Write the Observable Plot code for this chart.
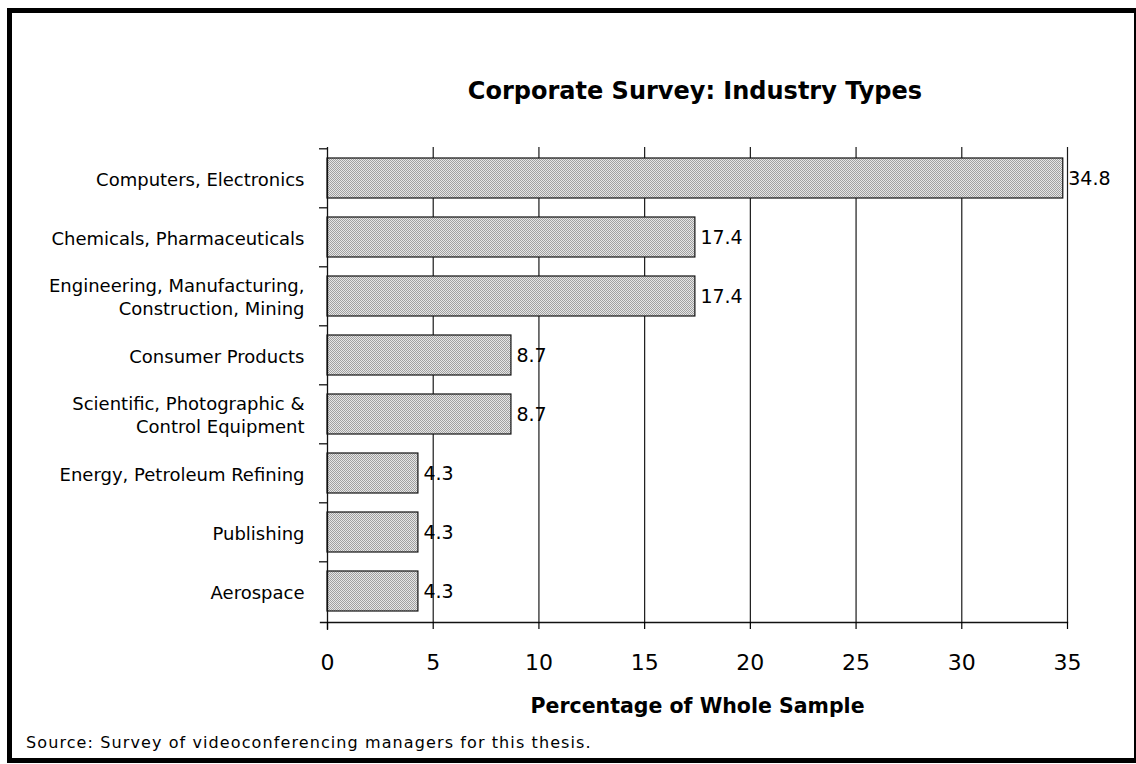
<!DOCTYPE html>
<html>
<head>
<meta charset="utf-8">
<script src="https://cdn.jsdelivr.net/npm/d3@7"></script>
<script src="https://cdn.jsdelivr.net/npm/@observablehq/plot@0.6"></script>
<style>
  html, body { margin: 0; padding: 0; background: #fff; }
  #page { position: relative; width: 1136px; height: 764px; overflow: hidden; font-family: "DejaVu Sans", sans-serif; color: #000; }
  #frame { position: absolute; left: 7px; top: 8px; width: 1129px; height: 755px; box-sizing: border-box;
           border-left: 5px solid #000; border-top: 5px solid #000; border-bottom: 5px solid #000; border-right: 2px solid #000; }
  #title { position: absolute; left: 0; width: 1390px; top: 77px; text-align: center; font-weight: bold; font-size: 24px; line-height: 28px; }
  #chart { position: absolute; left: 0; top: 0; }
  #source { position: absolute; left: 26px; top: 733px; font-size: 16px; letter-spacing: 1.1px; line-height: 19px; }
</style>
</head>
<body>
<div id="page">
  <div id="frame"></div>
  <div id="title">Corporate Survey: Industry Types</div>
  <div id="chart"></div>
  <div id="source">Source: Survey of videoconferencing managers for this thesis.</div>
</div>
<script>
// Industry categories, top to bottom, and their share of the sample (%)
const industries = [
  "Computers, Electronics",
  "Chemicals, Pharmaceuticals",
  "Engineering, Manufacturing,\nConstruction, Mining",
  "Consumer Products",
  "Scientific, Photographic &\nControl Equipment",
  "Energy, Petroleum Refining",
  "Publishing",
  "Aerospace"
];
const percentages = [34.8, 17.4, 17.4, 8.7, 8.7, 4.3, 4.3, 4.3];
const xTicks = [0, 5, 10, 15, 20, 25, 30, 35];
const xTitle = "Percentage of Whole Sample";

const data = industries.map((industry, i) => ({industry, pct: percentages[i]}));

const W = 1136, H = 700;
const mTop = 147, mBottom = 78, mLeft = 327, mRight = 69;
const bandStep = (H - mTop - mBottom) / industries.length;

const chart = Plot.plot({
  width: W,
  height: H,
  marginTop: mTop,
  marginBottom: mBottom,
  marginLeft: mLeft,
  marginRight: mRight,
  style: {fontFamily: "DejaVu Sans, sans-serif", color: "#000", background: "transparent", overflow: "visible"},
  x: {domain: [0, 35]},
  y: {domain: industries, paddingInner: 0.33, paddingOuter: 0.165},
  marks: [
    // vertical gridlines at each major tick
    Plot.gridX(xTicks.slice(1), {stroke: "#1a1a1a", strokeOpacity: 1, strokeWidth: 1.2}),
    // bars with a fine halftone fill
    Plot.barX(data, {x: "pct", y: "industry", fill: "url(#halftone)", stroke: "#111", strokeWidth: 1.2}),
    // value labels at the bar ends
    Plot.text(data, {x: "pct", y: "industry", text: d => d.pct.toFixed(1), textAnchor: "start", dx: 5, fontSize: 19}),
    // category labels
    Plot.axisY({tickSize: 0, tickPadding: 23, fontSize: 18, lineHeight: 1.28, label: null}),
    // boundary ticks between categories
    Plot.axisY({tickSize: 8, tickFormat: () => "", dy: -bandStep / 2, strokeWidth: 1.2, label: null}),
    // vertical axis line, running slightly past the baseline
    Plot.ruleX([0], {stroke: "#111", strokeWidth: 1.3, insetBottom: -8}),
    // horizontal axis line, running slightly left of the vertical axis
    Plot.frame({anchor: "bottom", stroke: "#111", strokeWidth: 1.3, insetLeft: -7}),
    Plot.axisX({ticks: xTicks, tickSize: 7, tickPadding: 25, fontSize: 22, strokeWidth: 1.2, label: null}),
    Plot.text([xTitle], {frameAnchor: "bottom", dy: 90, fontWeight: "bold", fontSize: 20.5})
  ]
});

// halftone pattern used for the bar fill
const ns = "http://www.w3.org/2000/svg";
const defs = document.createElementNS(ns, "defs");
const pat = document.createElementNS(ns, "pattern");
pat.setAttribute("id", "halftone");
pat.setAttribute("width", "2");
pat.setAttribute("height", "2");
pat.setAttribute("patternUnits", "userSpaceOnUse");
[[0, 0, 2, 2, "#e6e6e6"], [0, 0, 1, 1, "#a0a0a0"], [1, 1, 1, 1, "#a0a0a0"]].forEach(([x, y, w, h, c]) => {
  const r = document.createElementNS(ns, "rect");
  r.setAttribute("x", x); r.setAttribute("y", y);
  r.setAttribute("width", w); r.setAttribute("height", h);
  r.setAttribute("fill", c);
  pat.appendChild(r);
});
defs.appendChild(pat);
chart.insertBefore(defs, chart.firstChild);

document.getElementById("chart").appendChild(chart);
</script>
</body>
</html>
